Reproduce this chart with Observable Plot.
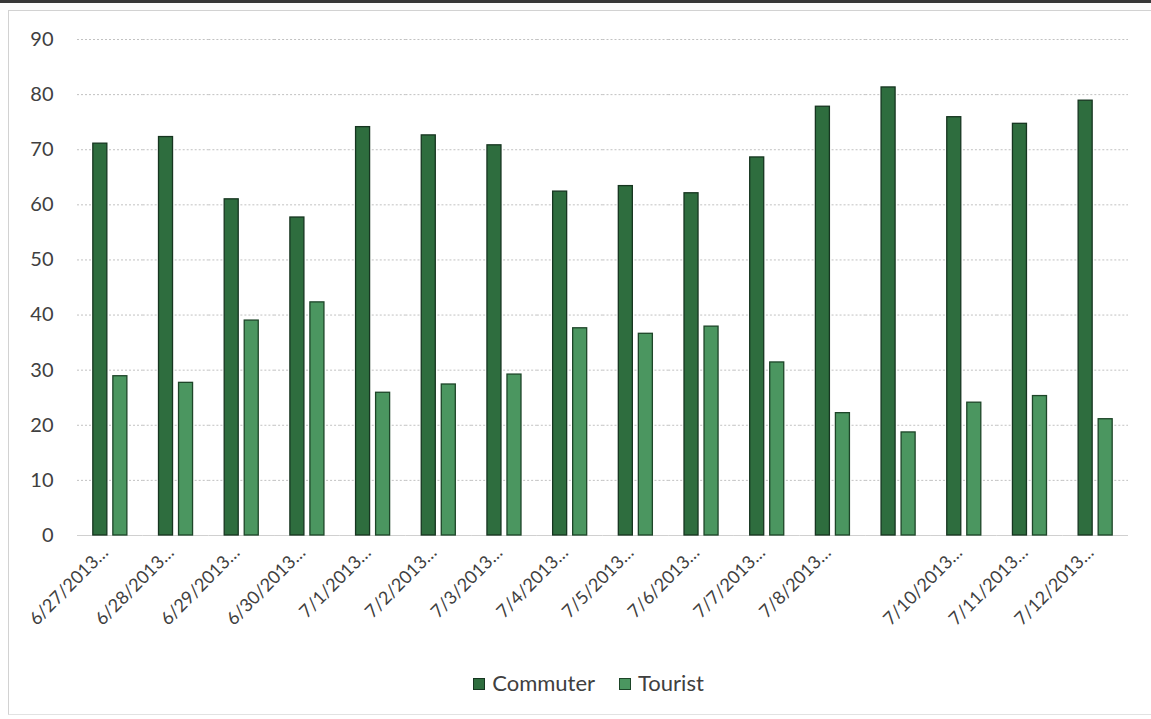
<!DOCTYPE html>
<html><head><meta charset="utf-8">
<script src="https://cdn.jsdelivr.net/npm/d3@7"></script>
<script src="https://cdn.jsdelivr.net/npm/@observablehq/plot@0.6"></script>
<style>
body{margin:0;background:#fff;font-family:Lato,"Open Sans",sans-serif;}
#wrap{position:relative;width:1151px;height:719px;overflow:hidden;background:#fff}
#topedge{position:absolute;left:0;top:0;width:1151px;height:3px;background:#3a3a3a}
#frame{position:absolute;left:8px;top:10px;width:1160px;height:703px;border-left:1px solid #d2d2d2;border-top:1px solid #d2d2d2;border-bottom:1px solid #e2e2e2}
#chart{position:absolute;left:0;top:0}
#legend{position:absolute;left:13px;top:669px;width:1151px;text-align:center;font-size:22px;color:#404040;line-height:28px}
#legend span.item{display:inline-block;margin:0 12px}
#legend i{display:inline-block;width:12px;height:12px;margin-right:7px;vertical-align:1px;box-sizing:border-box}
</style></head>
<body>
<div id="wrap">
<div id="topedge"></div>
<div id="frame"></div>
<div id="chart"></div>
<div id="legend"></div>
</div>
<script>
const dates = ["6/27/2013","6/28/2013","6/29/2013","6/30/2013","7/1/2013","7/2/2013","7/3/2013","7/4/2013","7/5/2013","7/6/2013","7/7/2013","7/8/2013","7/9/2013","7/10/2013","7/11/2013","7/12/2013"];
const tickLabels = ["6/27/2013…","6/28/2013…","6/29/2013…","6/30/2013…","7/1/2013…","7/2/2013…","7/3/2013…","7/4/2013…","7/5/2013…","7/6/2013…","7/7/2013…","7/8/2013…","","7/10/2013…","7/11/2013…","7/12/2013…"];
const series = ["Commuter","Tourist"];
const commuter = [71.1,72.3,61.0,57.7,74.1,72.6,70.8,62.4,63.4,62.1,68.6,77.8,81.3,75.9,74.7,78.9];
const tourist  = [28.9,27.7,39.0,42.3,25.9,27.4,29.2,37.6,36.6,37.9,31.4,22.2,18.7,24.1,25.3,21.1];
const yTicks = [0,10,20,30,40,50,60,70,80,90];
const fills = ["#2e6d3e","#4b9660"];
const strokes = ["#163520","#1d4528"];

const data = dates.flatMap((d,i)=>[
  {date:d, series:"Commuter", value:commuter[i]},
  {date:d, series:"Tourist", value:tourist[i]}
]);

const chart = Plot.plot({
  width:1151, height:668,
  marginLeft:77, marginRight:23, marginTop:39, marginBottom:133,
  style:{fontFamily:"Lato, 'Open Sans', sans-serif", fontSize:"17px", color:"#404040", background:"transparent", overflow:"visible"},
  fx:{domain:dates, padding:0, round:false, label:null},
  x:{domain:series, paddingInner:0.3, paddingOuter:0.79, round:false, axis:null},
  y:{domain:[0,90], label:null},
  marks:[
    Plot.gridY(yTicks.filter(t=>t>0), {stroke:"#9a9a9a", strokeDasharray:"2,2", strokeOpacity:0.6}),
    Plot.ruleY([0], {stroke:"#d0d0d0", strokeWidth:1}),
    Plot.barY(data.filter(d=>d.series==="Commuter"), {fx:"date", x:"series", y:"value", fill:fills[0], stroke:strokes[0], strokeWidth:1.3}),
    Plot.barY(data.filter(d=>d.series==="Tourist"), {fx:"date", x:"series", y:"value", fill:fills[1], stroke:strokes[1], strokeWidth:1.3}),
    Plot.axisY(yTicks, {tickSize:0, tickPadding:24, fontSize:20, label:null}),
    Plot.axisFx({anchor:"bottom", tickRotate:-45, tickSize:0, tickPadding:8, dx:-5, dy:6, fontSize:18, label:null, tickFormat:d=>tickLabels[dates.indexOf(d)]})
  ]
});
document.getElementById("chart").appendChild(chart);

const legend = document.getElementById("legend");
series.forEach((s,i)=>{
  const it = document.createElement("span");
  it.className = "item";
  it.innerHTML = `<i style="background:${fills[i]};border:1px solid ${strokes[i]}"></i>${s}`;
  legend.appendChild(it);
});
</script>
</body></html>
